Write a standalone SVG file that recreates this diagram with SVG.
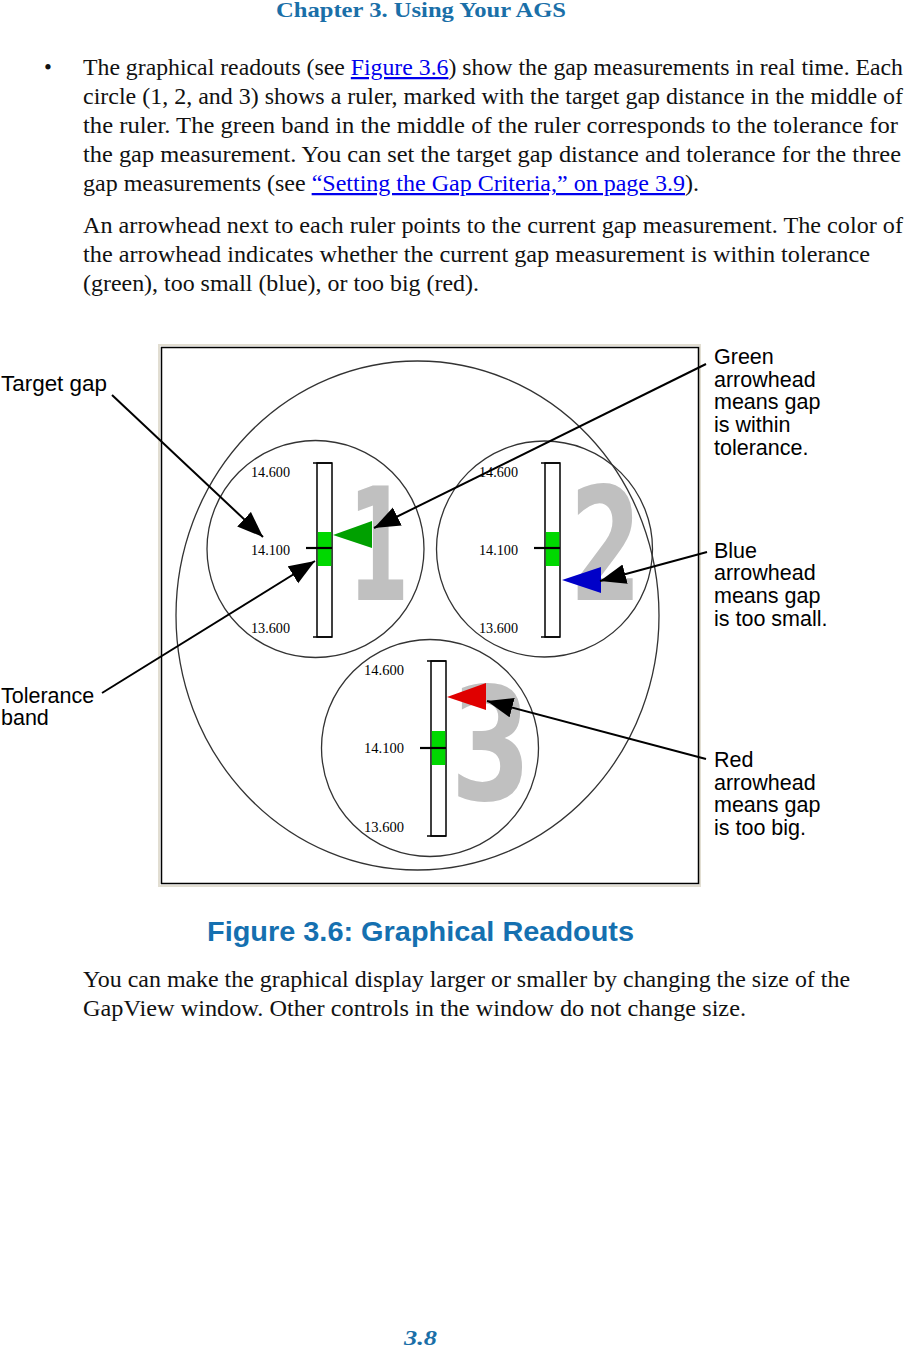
<svg xmlns="http://www.w3.org/2000/svg" width="905" height="1347" viewBox="0 0 905 1347">
<style>
.body{font-family:"Liberation Serif",serif;font-size:22.5px;fill:#111}
.lnk{fill:#0000ee;text-decoration:underline}
.hdr{font-family:"Liberation Serif",serif;font-weight:bold;fill:#1a6fa8}
.lbl{font-family:"Liberation Sans",Arial,sans-serif;font-size:21.5px;fill:#000}
.num{font-family:"Liberation Serif",serif;font-size:15.5px;fill:#000}
.dig{font-family:"DejaVu Sans",sans-serif;font-weight:bold;font-size:157px;fill:#c0c0c0}
.ring{fill:none;stroke:#333;stroke-width:1.3}
.ruler{fill:#fff;stroke:#000;stroke-width:1.5}
.tick{stroke:#000;stroke-width:1.5}
.mid{stroke:#000;stroke-width:2.2}
.band{fill:#00d800}
.conn{stroke:#000;stroke-width:2;fill:none;marker-end:url(#ah)}
</style>
<defs>
<marker id="ah" markerUnits="userSpaceOnUse" markerWidth="28" markerHeight="22" refX="26" refY="10" orient="auto">
<path d="M0,0 L26,10 L0,20 z" fill="#000"/>
</marker>
</defs>
<rect width="905" height="1347" fill="#fff"/>

<g id="header">
<text class="hdr" x="276" y="17" font-size="21" textLength="290" lengthAdjust="spacingAndGlyphs">Chapter 3. Using Your AGS</text>
</g>

<g id="body-text">
<text class="body" x="44" y="75">•</text>
<text class="body" x="83" y="75" textLength="820" lengthAdjust="spacingAndGlyphs">The graphical readouts (see <tspan class="lnk">Figure 3.6</tspan>) show the gap measurements in real time. Each</text>
<text class="body" x="83" y="104" textLength="820" lengthAdjust="spacingAndGlyphs">circle (1, 2, and 3) shows a ruler, marked with the target gap distance in the middle of</text>
<text class="body" x="83" y="133" textLength="815" lengthAdjust="spacingAndGlyphs">the ruler. The green band in the middle of the ruler corresponds to the tolerance for</text>
<text class="body" x="83" y="162" textLength="818" lengthAdjust="spacingAndGlyphs">the gap measurement. You can set the target gap distance and tolerance for the three</text>
<text class="body" x="83" y="191" textLength="616" lengthAdjust="spacingAndGlyphs">gap measurements (see <tspan class="lnk">“Setting the Gap Criteria,” on page 3.9</tspan>).</text>
<text class="body" x="83" y="233" textLength="820" lengthAdjust="spacingAndGlyphs">An arrowhead next to each ruler points to the current gap measurement. The color of</text>
<text class="body" x="83" y="262" textLength="787" lengthAdjust="spacingAndGlyphs">the arrowhead indicates whether the current gap measurement is within tolerance</text>
<text class="body" x="83" y="291" textLength="396" lengthAdjust="spacingAndGlyphs">(green), too small (blue), or too big (red).</text>
<text class="body" x="83" y="987" textLength="767" lengthAdjust="spacingAndGlyphs">You can make the graphical display larger or smaller by changing the size of the</text>
<text class="body" x="83" y="1016" textLength="663" lengthAdjust="spacingAndGlyphs">GapView window. Other controls in the window do not change size.</text>
</g>

<g id="figure-frame">
<rect x="159" y="345" width="541" height="541" fill="none" stroke="#e2ded2" stroke-width="2"/>
<rect x="161.5" y="347.5" width="537" height="536" fill="#fff" stroke="#000" stroke-width="1.5"/>
<ellipse class="ring" cx="417.5" cy="615.5" rx="241.5" ry="254.5"/>
</g>

<g id="readout-1">
<circle class="ring" cx="315.5" cy="549" r="108.5"/>
<text class="dig" transform="translate(378.5,600) scale(0.56,1)" text-anchor="middle">1</text>
<rect class="ruler" x="317" y="463" width="15" height="174"/>
<rect class="band" x="317.8" y="532" width="13.5" height="34"/>
<line class="tick" x1="313" y1="463" x2="332" y2="463"/>
<line class="tick" x1="313" y1="637" x2="332" y2="637"/>
<line class="mid" x1="306" y1="548" x2="332" y2="548"/>
<text class="num" x="251" y="477" textLength="39" lengthAdjust="spacingAndGlyphs">14.600</text>
<text class="num" x="251" y="555" textLength="39" lengthAdjust="spacingAndGlyphs">14.100</text>
<text class="num" x="251" y="633" textLength="39" lengthAdjust="spacingAndGlyphs">13.600</text>
<polygon points="333,535 372,521 372,548" fill="#00a000"/>
</g>

<g id="readout-2">
<circle class="ring" cx="544.5" cy="549" r="108"/>
<text class="dig" transform="translate(605.5,600) scale(0.66,1)" text-anchor="middle">2</text>
<rect class="ruler" x="545" y="463" width="15" height="174"/>
<rect class="band" x="545.8" y="532" width="13.5" height="34"/>
<line class="tick" x1="541" y1="463" x2="560" y2="463"/>
<line class="tick" x1="541" y1="637" x2="560" y2="637"/>
<line class="mid" x1="534" y1="548" x2="560" y2="548"/>
<text class="num" x="479" y="477" textLength="39" lengthAdjust="spacingAndGlyphs">14.600</text>
<text class="num" x="479" y="555" textLength="39" lengthAdjust="spacingAndGlyphs">14.100</text>
<text class="num" x="479" y="633" textLength="39" lengthAdjust="spacingAndGlyphs">13.600</text>
<polygon points="562,580 601,567 601,593" fill="#0000c8"/>
</g>

<g id="readout-3">
<circle class="ring" cx="430" cy="748" r="108.5"/>
<text class="dig" transform="translate(491,800) scale(0.74,1)" text-anchor="middle">3</text>
<rect class="ruler" x="431" y="661" width="15" height="175"/>
<rect class="band" x="431.8" y="731" width="13.5" height="34"/>
<line class="tick" x1="427" y1="661" x2="446" y2="661"/>
<line class="tick" x1="427" y1="836" x2="446" y2="836"/>
<line class="mid" x1="420" y1="748" x2="446" y2="748"/>
<text class="num" x="364" y="675" textLength="40" lengthAdjust="spacingAndGlyphs">14.600</text>
<text class="num" x="364" y="753" textLength="40" lengthAdjust="spacingAndGlyphs">14.100</text>
<text class="num" x="364" y="832" textLength="40" lengthAdjust="spacingAndGlyphs">13.600</text>
<polygon points="447,697 486,683 486,710" fill="#e00000"/>
</g>

<g id="label-target-gap">
<text class="lbl" x="1" y="391" textLength="106" lengthAdjust="spacingAndGlyphs">Target gap</text>
</g>
<g id="label-tolerance-band">
<text class="lbl" x="1" y="703">Tolerance</text>
<text class="lbl" x="1" y="725">band</text>
</g>
<g id="label-green">
<text class="lbl" x="714" y="364">Green</text>
<text class="lbl" x="714" y="387">arrowhead</text>
<text class="lbl" x="714" y="409">means gap</text>
<text class="lbl" x="714" y="432">is within</text>
<text class="lbl" x="714" y="455">tolerance.</text>
</g>
<g id="label-blue">
<text class="lbl" x="714" y="558">Blue</text>
<text class="lbl" x="714" y="580">arrowhead</text>
<text class="lbl" x="714" y="603">means gap</text>
<text class="lbl" x="714" y="626">is too small.</text>
</g>
<g id="label-red">
<text class="lbl" x="714" y="767">Red</text>
<text class="lbl" x="714" y="790">arrowhead</text>
<text class="lbl" x="714" y="812">means gap</text>
<text class="lbl" x="714" y="835">is too big.</text>
</g>

<g id="connectors">
<line class="conn" x1="112" y1="395" x2="263" y2="537"/>
<line class="conn" x1="102" y1="693" x2="315" y2="561"/>
<line class="conn" x1="706" y1="364" x2="374" y2="528"/>
<line class="conn" x1="707" y1="552" x2="600" y2="581"/>
<line class="conn" x1="706" y1="759" x2="487" y2="701"/>
</g>

<g id="caption">
<text x="207" y="941" font-family="Liberation Sans, Arial, sans-serif" font-weight="bold" font-size="28.5" fill="#1570b0" textLength="427" lengthAdjust="spacingAndGlyphs">Figure 3.6: Graphical Readouts</text>
</g>

<g id="footer">
<text x="404" y="1345" font-family="Liberation Serif, serif" font-weight="bold" font-style="italic" font-size="22" fill="#1a6fa8" textLength="33" lengthAdjust="spacingAndGlyphs">3.8</text>
</g>
</svg>
